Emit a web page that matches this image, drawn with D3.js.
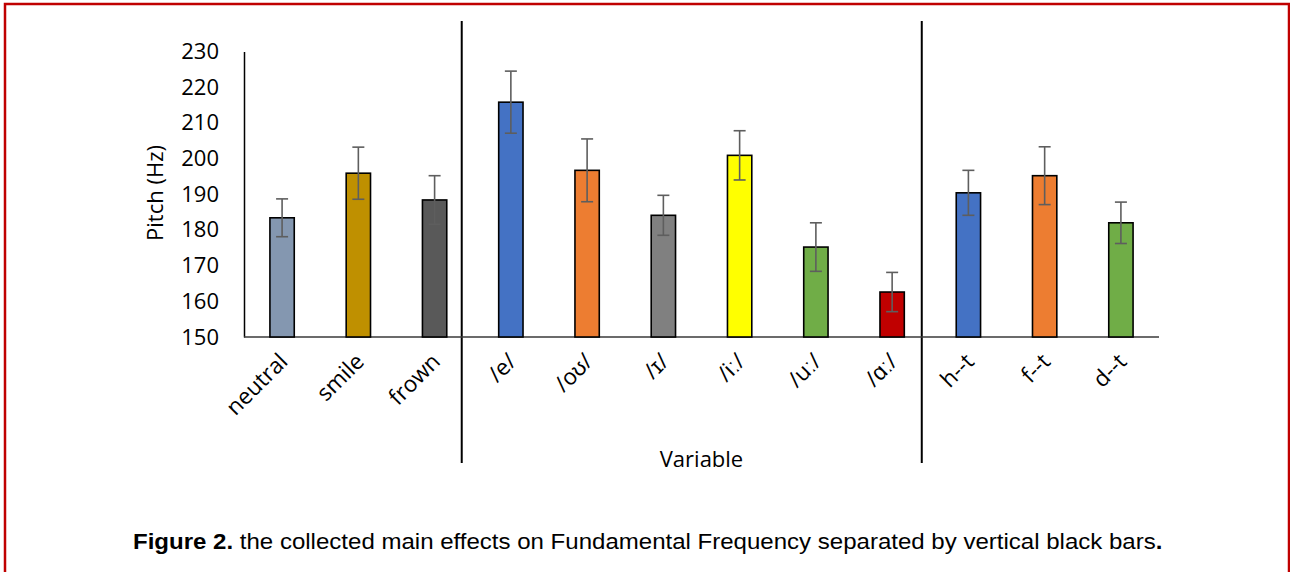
<!DOCTYPE html>
<html>
<head>
<meta charset="utf-8">
<script src="https://cdn.jsdelivr.net/npm/d3@7"></script>
<style>
  html, body { margin: 0; padding: 0; background: #fff; }
  svg { display: block; }
</style>
</head>
<body>
<svg id="chart" width="1290" height="572"></svg>
<script>
// ---- data ----
const categories = ["neutral", "smile", "frown", "/e/", "/oʊ/", "/ɪ/", "/iː/", "/uː/", "/ɑː/", "h--t", "f--t", "d--t"];
const pitchValues = [183.4, 195.9, 188.4, 215.8, 196.7, 184.1, 200.9, 175.2, 162.6, 190.4, 195.2, 182.0];
const errorValues = [5.3, 7.3, 6.8, 8.7, 8.8, 5.6, 6.9, 6.8, 5.5, 6.3, 8.1, 5.8];
const barColors = ["#8497b0", "#bf9000", "#595959", "#4472c4", "#ed7d31", "#808080", "#ffff00", "#70ad47", "#c00000", "#4472c4", "#ed7d31", "#70ad47"];
const yTicks = [150, 160, 170, 180, 190, 200, 210, 220, 230];
const groupEnds = ["frown", "/ɑː/"];
const yTitle = "Pitch (Hz)";
const xTitle = "Variable";
const captionBold = "Figure 2.";
const captionText = " the collected main effects on Fundamental Frequency separated by vertical black bars";

const svg = d3.select("#chart");
const font = "'Open Sans', sans-serif";

// frame
svg.append("rect").attr("x", 5).attr("y", 4).attr("width", 1284).attr("height", 620)
  .attr("fill", "none").attr("stroke", "#c00000").attr("stroke-width", 2.5);

const x = d3.scaleBand().domain(categories).range([244, 1159]).paddingInner(0.681).paddingOuter(0.34);
const y = d3.scaleLinear().domain([150, 230]).range([337, 51.5]);

// y axis
const yAxis = svg.append("g").attr("transform", "translate(244,0)")
  .call(d3.axisLeft(y).tickValues(yTicks).tickSize(0).tickPadding(25).tickFormat(d3.format("d")));
yAxis.select(".domain").attr("stroke", "#000").attr("stroke-width", 1.5);
yAxis.selectAll("text").attr("font-family", font).attr("font-size", 22).attr("fill", "#000");

// separators
const sepOffsets = [-11, -8.5];
groupEnds.forEach((c, i) => {
  const idx = categories.indexOf(c);
  const a = x(categories[idx]) + x.bandwidth() / 2;
  const b = x(categories[idx + 1]) + x.bandwidth() / 2;
  const sx = (a + b) / 2 + sepOffsets[i];
  svg.append("line").attr("x1", sx).attr("x2", sx).attr("y1", 21).attr("y2", 463)
    .attr("stroke", "#000").attr("stroke-width", 2);
});

// x axis line
svg.append("line").attr("x1", 244).attr("x2", 1159).attr("y1", y(150)).attr("y2", y(150))
  .attr("stroke", "#3a3a3a").attr("stroke-width", 1.5);

// bars
svg.append("g").selectAll("rect").data(categories).join("rect")
  .attr("x", d => x(d))
  .attr("y", (d, i) => y(pitchValues[i]))
  .attr("width", x.bandwidth())
  .attr("height", (d, i) => y(150) - y(pitchValues[i]))
  .attr("fill", (d, i) => barColors[i])
  .attr("stroke", "#000").attr("stroke-width", 1.6);

// error bars
const eg = svg.append("g").attr("stroke", "#5e5e5e").attr("stroke-width", 1.6);
categories.forEach((c, i) => {
  const cx = x(c) + x.bandwidth() / 2;
  const hi = y(pitchValues[i] + errorValues[i]);
  const lo = y(pitchValues[i] - errorValues[i]);
  eg.append("line").attr("x1", cx).attr("x2", cx).attr("y1", hi).attr("y2", lo);
  eg.append("line").attr("x1", cx - 6).attr("x2", cx + 6).attr("y1", hi).attr("y2", hi);
  eg.append("line").attr("x1", cx - 6).attr("x2", cx + 6).attr("y1", lo).attr("y2", lo);
});

// x labels
svg.append("g").selectAll("text").data(categories).join("text")
  .attr("transform", d => `translate(${x(d) + x.bandwidth() / 2 + 7},363) rotate(-45)`)
  .attr("text-anchor", "end")
  .attr("font-family", font).attr("font-size", 22.5).attr("fill", "#000")
  .text(d => d);

// axis titles
svg.append("text").attr("transform", "translate(163,193) rotate(-90)")
  .attr("text-anchor", "middle").attr("font-family", font).attr("font-size", 22).attr("fill", "#000")
  .text(yTitle);
svg.append("text").attr("x", 701.5).attr("y", 467).attr("text-anchor", "middle")
  .attr("font-family", font).attr("font-size", 22).attr("fill", "#000").text(xTitle);

// caption
const cap = svg.append("text").attr("x", 0).attr("y", 0)
  .attr("font-family", "'Liberation Sans', Arial, sans-serif").attr("font-size", 22).attr("fill", "#000");
cap.append("tspan").attr("font-weight", "bold").text(captionBold);
cap.append("tspan").text(captionText);
cap.append("tspan").attr("font-weight", "bold").text(".");
const w = cap.node().getComputedTextLength();
cap.attr("transform", `translate(133,549) scale(${1030 / w},1)`);
</script>
</body>
</html>
